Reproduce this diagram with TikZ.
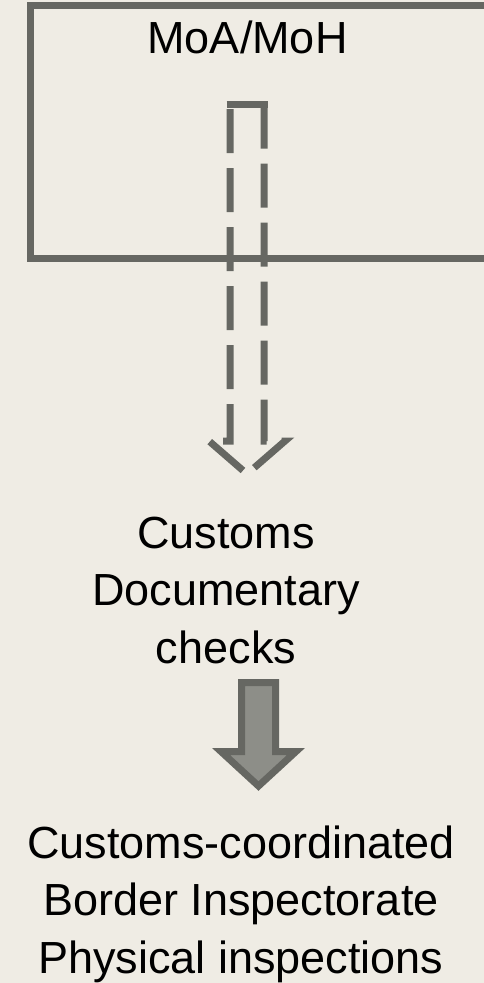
\documentclass[tikz,border=0pt]{standalone}
\usepackage{fontspec}
\setmainfont{Liberation Sans}
\definecolor{bgc}{RGB}{239,236,228}
\definecolor{linec}{RGB}{102,103,98}
\definecolor{fillc}{RGB}{141,142,136}
\tikzset{
  boxline/.style={draw=linec, line width=7pt},
  dasharrow/.style={draw=linec, line width=7pt, miter limit=10, dash pattern=on 44pt off 15pt, dash phase=54.5pt},
  solidarrow/.style={draw=linec, fill=fillc, line width=7pt, miter limit=10},
  lbl/.style={inner sep=0pt, align=center, font=\fontsize{45}{57.5}\selectfont, text=black}
}
\begin{document}
\begin{tikzpicture}[x=1pt, y=-1pt]
\useasboundingbox (0,0) rectangle (484,983);
\fill[bgc] (0,0) rectangle (484,983);
\clip (0,0) rectangle (484,983);
% top box
\draw[boxline] (30.5,5.5) rectangle (495,258.5);
\node[lbl, anchor=base] (moa) at (247.5,53) {MoA/MoH};
% dashed block arrow
\draw[dasharrow] (230,104.5) -- (230,441) -- (209,441) -- (247,474) -- (285,441) -- (264,441) -- (264,104.5);
\draw[boxline] (226.5,104.5) -- (267.5,104.5);
% middle label (base = baseline of last line)
\node[lbl, anchor=base] (docs) at (226,663) {Customs\\Documentary\\checks};
% solid block arrow
\draw[solidarrow] (241.5,682.5) -- (241.5,751.5) -- (221,751.5) -- (258.5,786) -- (296,751.5) -- (275.5,751.5) -- (275.5,682.5) -- cycle;
% bottom label
\node[lbl, anchor=base] (bip) at (241,973) {Customs-coordinated\\Border Inspectorate\\Physical inspections};
\end{tikzpicture}
\end{document}
